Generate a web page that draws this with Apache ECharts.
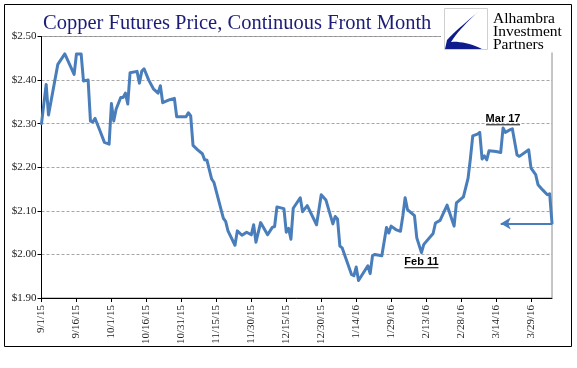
<!DOCTYPE html>
<html>
<head>
<meta charset="utf-8">
<script src="https://cdn.jsdelivr.net/npm/echarts@6/dist/echarts.min.js"></script>
<style>html,body{margin:0;padding:0;background:#fff;}#c{width:577px;height:368px;}</style>
</head>
<body>
<div id="c"></div>
<script>
// ---- data ----
const startDate = '2015-09-01';
const endDate = '2016-04-07';
const dates = ['2015-09-01','2015-09-03','2015-09-04','2015-09-08','2015-09-11','2015-09-15','2015-09-16','2015-09-18','2015-09-19','2015-09-21','2015-09-22','2015-09-23','2015-09-24','2015-09-26','2015-09-28','2015-09-30','2015-10-01','2015-10-02','2015-10-03','2015-10-05','2015-10-06','2015-10-07','2015-10-08','2015-10-09','2015-10-12','2015-10-13','2015-10-14','2015-10-15','2015-10-17','2015-10-19','2015-10-21','2015-10-22','2015-10-23','2015-10-26','2015-10-28','2015-10-29','2015-11-02','2015-11-03','2015-11-04','2015-11-05','2015-11-07','2015-11-09','2015-11-10','2015-11-11','2015-11-13','2015-11-14','2015-11-18','2015-11-19','2015-11-20','2015-11-23','2015-11-24','2015-11-26','2015-11-28','2015-11-30','2015-12-01','2015-12-02','2015-12-04','2015-12-07','2015-12-09','2015-12-10','2015-12-11','2015-12-14','2015-12-15','2015-12-16','2015-12-17','2015-12-18','2015-12-21','2015-12-22','2015-12-24','2015-12-28','2015-12-30','2016-01-01','2016-01-04','2016-01-05','2016-01-06','2016-01-07','2016-01-08','2016-01-12','2016-01-13','2016-01-14','2016-01-15','2016-01-19','2016-01-20','2016-01-21','2016-01-22','2016-01-25','2016-01-27','2016-01-28','2016-01-29','2016-01-31','2016-02-02','2016-02-03','2016-02-04','2016-02-05','2016-02-08','2016-02-09','2016-02-11','2016-02-12','2016-02-16','2016-02-17','2016-02-19','2016-02-22','2016-02-25','2016-02-26','2016-02-29','2016-03-02','2016-03-03','2016-03-04','2016-03-06','2016-03-07','2016-03-08','2016-03-09','2016-03-10','2016-03-11','2016-03-14','2016-03-16','2016-03-17','2016-03-18','2016-03-20','2016-03-21','2016-03-23','2016-03-24','2016-03-28','2016-03-29','2016-03-31','2016-04-01','2016-04-03','2016-04-05','2016-04-06','2016-04-07'];
const prices = [2.300,2.390,2.320,2.436,2.460,2.413,2.460,2.460,2.398,2.400,2.306,2.304,2.312,2.285,2.257,2.253,2.346,2.306,2.333,2.360,2.360,2.370,2.345,2.417,2.420,2.393,2.420,2.426,2.400,2.380,2.370,2.387,2.348,2.355,2.358,2.316,2.316,2.325,2.318,2.250,2.240,2.231,2.217,2.216,2.173,2.165,2.083,2.076,2.054,2.021,2.054,2.044,2.051,2.045,2.068,2.028,2.073,2.045,2.062,2.064,2.109,2.105,2.051,2.060,2.035,2.106,2.130,2.098,2.112,2.068,2.137,2.125,2.070,2.087,2.081,2.019,2.015,1.954,1.951,1.971,1.940,1.974,1.956,1.997,2.000,1.997,2.062,2.049,2.065,2.057,2.053,2.088,2.130,2.103,2.089,2.038,2.004,2.023,2.048,2.072,2.078,2.113,2.065,2.118,2.132,2.175,2.220,2.272,2.276,2.280,2.219,2.226,2.217,2.238,2.236,2.234,2.290,2.280,2.286,2.288,2.228,2.225,2.240,2.198,2.183,2.160,2.148,2.137,2.139,2.072];
const yTicks = [1.90, 2.00, 2.10, 2.20, 2.30, 2.40, 2.50];
const tickStepDays = 15;
const annotations = [
  {text: 'Mar 17', date: '2016-03-17', value: 2.310},
  {text: 'Feb 11', date: '2016-02-11', value: 1.982}
];
const arrowFrom = {date: '2016-03-16', value: 2.071};
const arrowTo = {date: '2016-04-07', value: 2.071};
const titleText = 'Copper Futures Price, Continuous Front Month';
const logoLines = ['Alhambra', 'Investment', 'Partners'];

// ---- helpers ----
const DAY = 86400000;
function toMs(s){ const p = s.split('-').map(Number); return Date.UTC(p[0], p[1]-1, p[2]); }
const t0 = toMs(startDate);
function dayIdx(s){ return Math.round((toMs(s) - t0) / DAY); }
function fmtDay(d){
  const dt = new Date(t0 + d * DAY);
  return (dt.getUTCMonth()+1) + '/' + dt.getUTCDate() + '/' + String(dt.getUTCFullYear()).slice(2);
}
const maxDay = dayIdx(endDate);
const seriesData = dates.map((d, i) => [dayIdx(d), prices[i]]);
const xTickVals = [];
for (let d = 0; d <= maxDay; d += tickStepDays) xTickVals.push(d);

const chart = echarts.init(document.getElementById('c'), null, {renderer: 'canvas'});
const blue = '#4A7EBB';
const serif = '"Liberation Serif", "Times New Roman", serif';

chart.setOption({
  animation: false,
  backgroundColor: '#fff',
  grid: {left: 41.5, top: 36.5, right: 25, bottom: 70, show: true, borderColor: '#8c8c8c', borderWidth: 1, backgroundColor: 'transparent'},
  xAxis: {
    type: 'value', min: 0, max: maxDay, interval: tickStepDays,
    axisLine: {show: true, onZero: false, lineStyle: {color: '#000', width: 1}},
    axisTick: {show: true, length: 4, inside: false, customValues: xTickVals, lineStyle: {color: '#000'}},
    splitLine: {show: false},
    axisLabel: {
      customValues: xTickVals,
      rotate: 90, margin: 7, fontFamily: serif, fontSize: 11, color: '#222',
      formatter: v => (v % tickStepDays === 0 ? fmtDay(v) : '')
    }
  },
  yAxis: {
    type: 'value', min: yTicks[0], max: yTicks[yTicks.length-1], interval: 0.1,
    axisLine: {show: true, lineStyle: {color: '#000', width: 1}},
    axisTick: {show: true, length: 4, lineStyle: {color: '#000'}},
    splitLine: {show: true, lineStyle: {color: '#a6a6a6', type: [3, 2], width: 1}},
    axisLabel: {margin: 5, fontFamily: serif, fontSize: 11, color: '#222', formatter: v => '$' + v.toFixed(2)}
  },
  series: [{
    type: 'line', data: seriesData, showSymbol: false, symbol: 'none',
    lineStyle: {color: blue, width: 3, join: 'round', cap: 'round'},
    z: 3,
    markLine: {
      silent: true, symbol: ['arrow', 'none'], symbolSize: [9, 10],
      label: {show: false},
      lineStyle: {color: blue, width: 2, type: 'solid'},
      data: [[{coord: [dayIdx(arrowFrom.date), arrowFrom.value]}, {coord: [dayIdx(arrowTo.date), arrowTo.value]}]]
    }
  }]
});

function bez(p0, p1, p2, p3, n){
  const out = [];
  for (let i = 0; i <= n; i++){
    const t = i / n, u = 1 - t;
    out.push([u*u*u*p0[0] + 3*u*u*t*p1[0] + 3*u*t*t*p2[0] + t*t*t*p3[0],
              u*u*u*p0[1] + 3*u*u*t*p1[1] + 3*u*t*t*p2[1] + t*t*t*p3[1]]);
  }
  return out;
}

// annotations & decoration
const g = [];
g.push({type: 'rect', shape: {x: 4.5, y: 4.5, width: 567, height: 342}, style: {fill: null, stroke: '#000', lineWidth: 1}, z: 100});
g.push({type: 'text', x: 43, y: 24, style: {text: titleText, font: '20.5px ' + serif, fill: '#1c1c78', verticalAlign: 'middle'}, z: 100});
g.push({type: 'rect', shape: {x: 441, y: 5.5, width: 129, height: 47}, style: {fill: '#fff'}, z: 90});
g.push({type: 'rect', shape: {x: 444.5, y: 8.5, width: 43, height: 41}, style: {fill: '#fff', stroke: '#cfcfcf', lineWidth: 1}, z: 91});
const logoPts = [].concat(
  bez([479,11],[469,20],[456,30],[447,40], 10),
  [[445,49]],
  bez([482,49],[472,44],[460,41],[451,42], 10),
  bez([451,42],[458,31],[468,21],[479,11], 10)
);
g.push({type: 'polygon', shape: {points: logoPts}, style: {fill: '#0d1b8c'}, z: 92});
logoLines.forEach((t, i) => {
  g.push({type: 'text', x: 493, y: 19 + i * 13, style: {text: t, font: '15.5px ' + serif, fill: '#000', verticalAlign: 'middle'}, z: 93});
});
annotations.forEach(a => {
  const p = chart.convertToPixel({gridIndex: 0}, [dayIdx(a.date), a.value]);
  g.push({type: 'text', x: p[0], y: p[1], style: {text: a.text, font: 'bold 11px "Liberation Sans", Arial, sans-serif', fill: '#000', align: 'center', verticalAlign: 'middle'}, z: 100});
  g.push({type: 'line', shape: {x1: p[0] - 17, y1: p[1] + 5.5, x2: p[0] + 17, y2: p[1] + 5.5}, style: {stroke: '#000', lineWidth: 1}, z: 100});
});
chart.setOption({graphic: g});
</script>
</body>
</html>
